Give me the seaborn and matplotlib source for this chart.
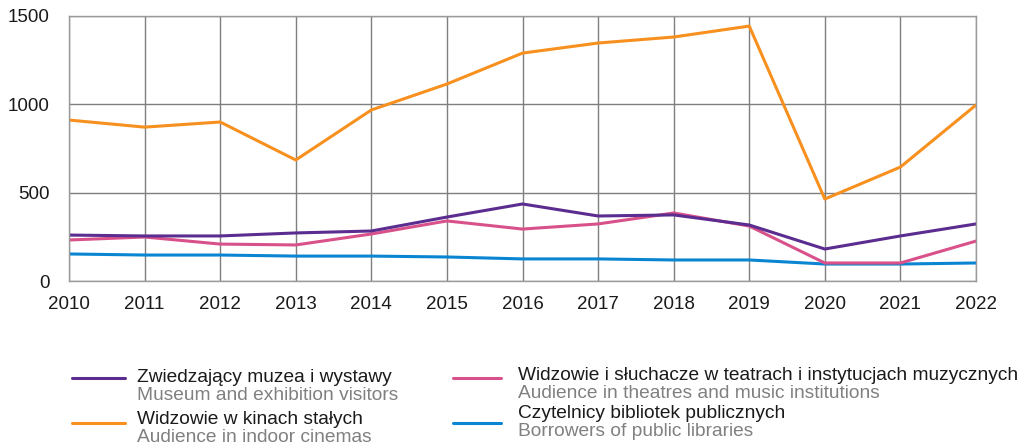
import numpy as np
import pandas as pd
import matplotlib
matplotlib.use("Agg")
import matplotlib.pyplot as plt
import seaborn as sns
from matplotlib.lines import Line2D

# ---------------------------
# Data (thousands)
# ---------------------------
years = list(range(2010, 2023))
museums = [260, 255, 255, 272, 283, 362, 436, 368, 374, 317, 181, 255, 323]
cinemas = [911, 871, 900, 685, 968, 1115, 1290, 1347, 1381, 1443, 464, 645, 996]
theatres = [232, 249, 209, 204, 266, 340, 294, 323, 385, 311, 102, 102, 226]
libraries = [153, 147, 147, 141, 141, 136, 125, 125, 119, 119, 96, 96, 102]

labels_pl = ["Zwiedzający muzea i wystawy", "Widzowie w kinach stałych",
             "Widzowie i słuchacze w teatrach i instytucjach muzycznych",
             "Czytelnicy bibliotek publicznych"]
labels_en = ["Museum and exhibition visitors", "Audience in indoor cinemas",
             "Audience in theatres and music institutions",
             "Borrowers of public libraries"]
colors = ["#5B2D90", "#F7901E", "#D9518A", "#0A85D1"]

df = pd.DataFrame({"year": years, "museums": museums, "cinemas": cinemas,
                   "theatres": theatres, "libraries": libraries})
long = df.melt(id_vars="year", var_name="series", value_name="value")
order = ["museums", "cinemas", "theatres", "libraries"]

# ---------------------------
# Plot
# ---------------------------
sns.set_theme(style="white")
plt.rcParams["font.family"] = ["Liberation Sans", "DejaVu Sans"]

fig = plt.figure(figsize=(10.24, 4.45), dpi=100)
ax = fig.add_axes([69 / 1024, 1 - 281 / 445, (976 - 69) / 1024, (281 - 16) / 445])

# draw in reverse so purple sits on top
for key, col in reversed(list(zip(order, colors))):
    sns.lineplot(data=long[long.series == key], x="year", y="value",
                 color=col, linewidth=2.2, ax=ax, legend=False)

ax.set_xlim(2010, 2022)
ax.set_ylim(0, 1500)
ax.set_xticks(years)
ax.set_yticks([0, 500, 1000, 1500])
ax.grid(True, color="#7f7f7f", linewidth=1)
ax.set_axisbelow(True)
for s in ax.spines.values():
    s.set_color("#9a9a9a")
    s.set_linewidth(1)
ax.tick_params(axis="both", labelsize=13.5, colors="#1a1a1a", length=0)
ax.tick_params(axis="x", pad=11)
ax.tick_params(axis="y", pad=14)
ax.set_xlabel("")
ax.set_ylabel("")

# ---------------------------
# Legend (two columns, bilingual)
# ---------------------------
H = 445.0
W = 1024.0
entries = [
    (72, 125, 378, 137, 377, 395, 0),
    (72, 125, 423, 137, 420, 438, 1),
    (453, 501, 378, 518, 375, 394, 2),
    (453, 501, 423, 518, 413, 432, 3),
]
for x0, x1, yl, xt, ypl, yen, i in entries:
    fig.add_artist(Line2D([x0 / W, x1 / W], [1 - yl / H, 1 - yl / H],
                          color=colors[i], linewidth=2.2, transform=fig.transFigure))
    fig.text(xt / W, 1 - ypl / H, labels_pl[i], fontsize=13.8, color="#1a1a1a",
             va="center", ha="left")
    fig.text(xt / W, 1 - yen / H, labels_en[i], fontsize=13.8, color="#808080",
             va="center", ha="left")

fig.savefig("out.png", dpi=100)
